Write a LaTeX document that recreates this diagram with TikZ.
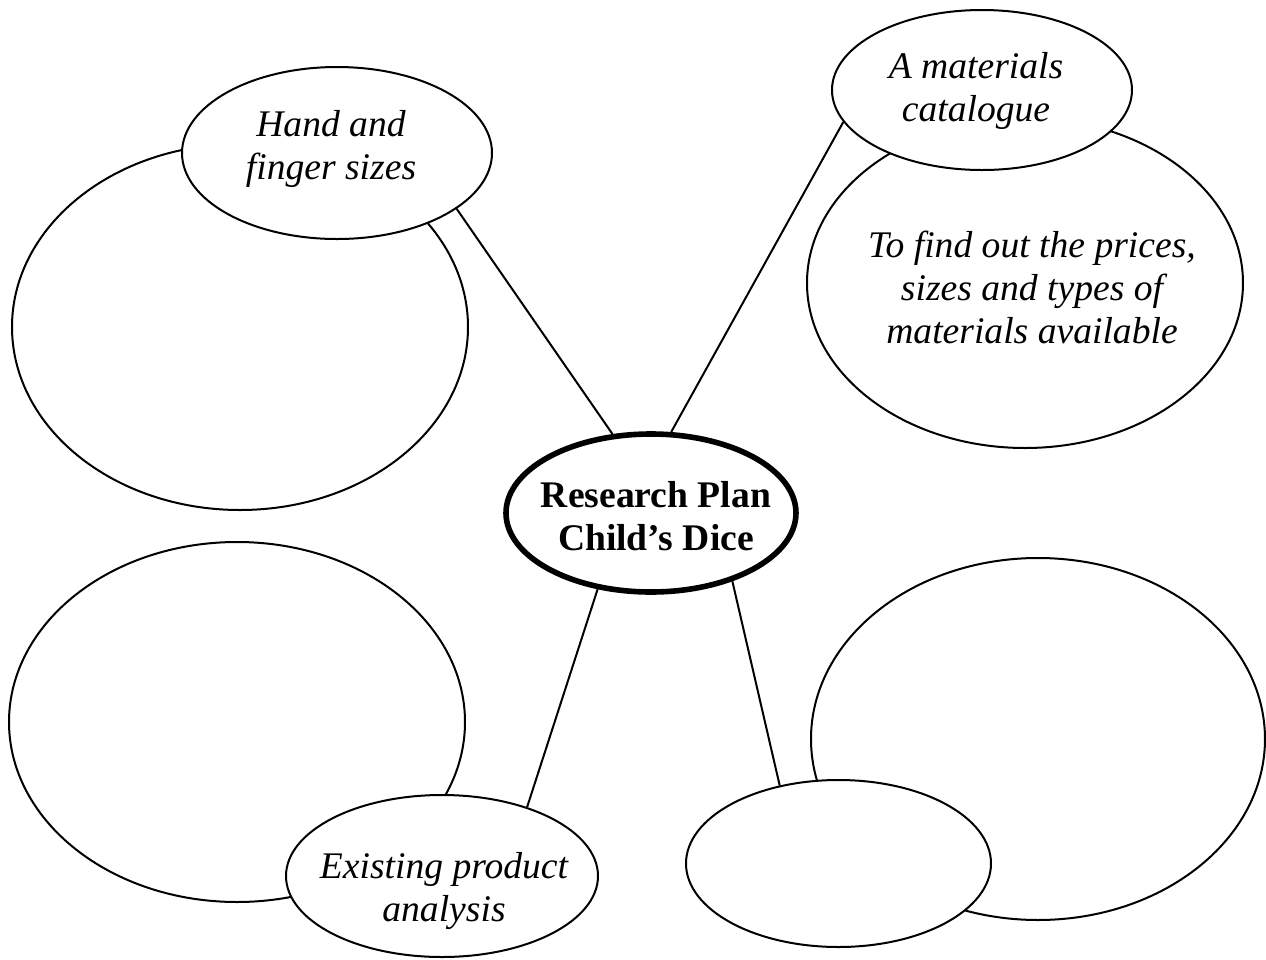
\documentclass[tikz,border=0pt]{standalone}
\usepackage{fontspec}
\setmainfont{Liberation Serif}
\usetikzlibrary{shapes.geometric}
\tikzset{
  bubble/.style={ellipse, draw, line width=1pt, fill=white, inner sep=0pt},
  hub/.style={ellipse, draw, line width=2.8pt, fill=white, inner sep=0pt},
  note/.style={font=\itshape\fontsize{18.8}{21.5}\selectfont, align=center, inner sep=0pt},
  link/.style={line width=1pt}
}
\begin{document}
\begin{tikzpicture}[x=0.5pt,y=-0.5pt]
\useasboundingbox (0,0) rectangle (1266,960);
\fill[white] (0,0) rectangle (1266,960);
% big bubbles behind
\node[bubble, minimum width=228pt, minimum height=183pt] (handnotes) at (240,327) {};
\node[bubble, minimum width=218pt, minimum height=165pt] (catnotes) at (1025,283) {};
\node[bubble, minimum width=228pt, minimum height=180pt] (exnotes) at (237,722) {};
\node[bubble, minimum width=227pt, minimum height=181pt] (blanknotes) at (1038,739) {};
% small bubbles on top
\node[bubble, minimum width=155pt, minimum height=86pt] (hand) at (337,153) {};
\node[bubble, minimum width=150pt, minimum height=80pt] (catalogue) at (982,90) {};
\node[bubble, minimum width=156pt, minimum height=81pt] (existing) at (442,876) {};
\node[bubble, minimum width=152.5pt, minimum height=83.5pt] (blank) at (838.5,863.5) {};
\node[hub, minimum width=145pt, minimum height=79pt] (plan) at (651,513) {};
% texts
\node[note, font=\bfseries\fontsize{18.8}{21.5}\selectfont] (plantxt) at (656,516.5) {Research Plan\\Child’s Dice};
\node[note] (handtxt) at (331,148.5) {Hand and\\finger sizes};
\node[note] (cattxt) at (976,90.5) {A materials\\catalogue};
\node[note] (cattxt2) at (1032,287) {To find out the prices,\\sizes and types of\\materials available};
\node[note] (extxt) at (444,891) {Existing product\\analysis};
% spokes
\draw[link] (plan.116.6) -- (hand.-25.4);
\draw[link] (plan.76.3) -- (catalogue.193.3);
\draw[link] (plan.235.3) -- (existing.39);
\draw[link] (plan.-40.6) -- (blank.127);
\end{tikzpicture}
\end{document}
